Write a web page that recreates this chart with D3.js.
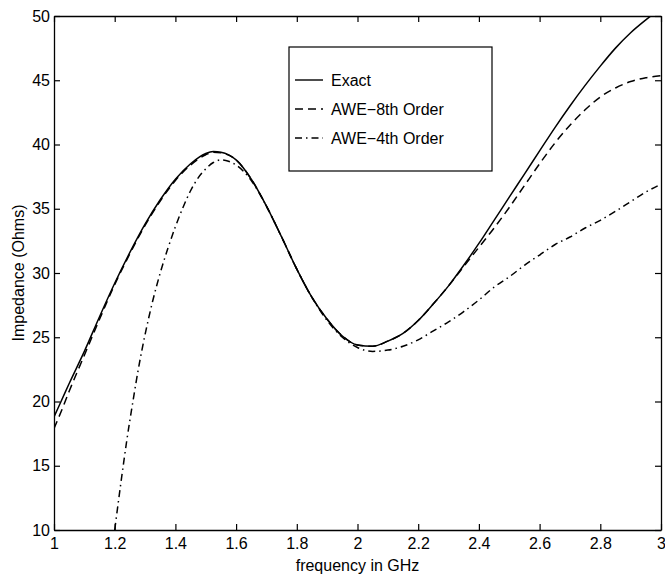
<!DOCTYPE html>
<html>
<head>
<meta charset="utf-8">
<script src="https://cdn.jsdelivr.net/npm/d3@7"></script>
<style>
  body { margin: 0; background: #fff; }
  svg text { font-family: "Liberation Sans", Arial, sans-serif; fill: #000; }
</style>
</head>
<body>
<svg id="chart" width="665" height="579"></svg>
<script>
// values (frequency in GHz, impedance in Ohms)
var freqExact = [1.0, 1.025, 1.05, 1.1, 1.15, 1.2, 1.25, 1.3, 1.35, 1.4, 1.45, 1.5, 1.525, 1.55, 1.6, 1.65, 1.7, 1.75, 1.8, 1.85, 1.9, 1.95, 2.0, 2.05, 2.1, 2.15, 2.2, 2.25, 2.3, 2.35, 2.4, 2.45, 2.5, 2.55, 2.6, 2.65, 2.7, 2.75, 2.8, 2.85, 2.9, 2.95, 3.0];
var zExact = [18.8, 20.1, 21.4, 23.9, 26.6, 29.2, 31.6, 33.8, 35.7, 37.3, 38.5, 39.3, 39.45, 39.4, 38.8, 37.3, 35.2, 32.8, 30.3, 28.1, 26.4, 25.1, 24.4, 24.3, 24.7, 25.3, 26.3, 27.6, 29.0, 30.6, 32.3, 34.1, 35.9, 37.7, 39.5, 41.3, 43.0, 44.6, 46.1, 47.5, 48.7, 49.7, 50.6];

var freq8 = [1.0, 1.025, 1.05, 1.1, 1.15, 1.2, 1.25, 1.3, 1.35, 1.4, 1.45, 1.5, 1.525, 1.55, 1.6, 1.65, 1.7, 1.75, 1.8, 1.85, 1.9, 1.95, 2.0, 2.05, 2.1, 2.15, 2.2, 2.25, 2.3, 2.35, 2.4, 2.45, 2.5, 2.55, 2.6, 2.65, 2.7, 2.75, 2.8, 2.85, 2.9, 2.95, 3.0];
var z8 = [17.9, 19.3, 20.8, 23.6, 26.4, 29.1, 31.5, 33.7, 35.6, 37.2, 38.4, 39.2, 39.4, 39.35, 38.8, 37.3, 35.2, 32.8, 30.3, 28.1, 26.4, 25.1, 24.4, 24.3, 24.7, 25.3, 26.3, 27.6, 29.0, 30.5, 32.0, 33.5, 35.1, 36.8, 38.5, 40.1, 41.5, 42.7, 43.7, 44.4, 44.9, 45.2, 45.35];

var freq4 = [1.2, 1.22, 1.24, 1.26, 1.28, 1.3, 1.325, 1.35, 1.375, 1.4, 1.425, 1.45, 1.475, 1.5, 1.525, 1.55, 1.575, 1.6, 1.625, 1.65, 1.7, 1.75, 1.8, 1.85, 1.9, 1.95, 2.0, 2.05, 2.1, 2.15, 2.2, 2.25, 2.3, 2.35, 2.4, 2.45, 2.5, 2.55, 2.6, 2.65, 2.7, 2.75, 2.8, 2.85, 2.9, 2.95, 3.0];
var z4 = [10.0, 13.6, 17.0, 20.0, 22.8, 25.2, 27.8, 30.0, 31.9, 33.6, 35.1, 36.4, 37.4, 38.1, 38.6, 38.8, 38.7, 38.4, 37.9, 37.2, 35.2, 32.8, 30.3, 28.1, 26.3, 25.0, 24.2, 23.9, 24.0, 24.3, 24.8, 25.5, 26.2, 27.0, 27.9, 28.9, 29.7, 30.6, 31.4, 32.2, 32.8, 33.5, 34.1, 34.8, 35.55, 36.3, 36.9];

var xTicks = [1, 1.2, 1.4, 1.6, 1.8, 2, 2.2, 2.4, 2.6, 2.8, 3];
var yTicks = [10, 15, 20, 25, 30, 35, 40, 45, 50];

var seriesNames = ["Exact", "AWE\u22128th Order", "AWE\u22124th Order"];
var dashes = [null, "8,5", "7,4,1.5,4"];

var svg = d3.select("#chart");
// plot box edges (px)
var pLeft = 54, pRight = 661, pTop = 16, pBottom = 530;

var x = d3.scaleLinear().domain([1, 3]).range([pLeft, pRight]);
var y = d3.scaleLinear().domain([10, 50]).range([pBottom, pTop]);

svg.append("defs").append("clipPath").attr("id", "plotclip")
  .append("rect").attr("x", pLeft).attr("y", pTop)
  .attr("width", pRight - pLeft).attr("height", pBottom - pTop);

// axes, ticks pointing inward like matlab
var fmt = function(d) { return String(d); };
svg.append("g").attr("transform", "translate(0," + pBottom + ")")
  .call(d3.axisBottom(x).tickValues(xTicks).tickFormat(fmt).tickSizeInner(-6).tickSizeOuter(0).tickPadding(8));
svg.append("g").attr("transform", "translate(0," + pTop + ")")
  .call(d3.axisTop(x).tickValues(xTicks).tickFormat("").tickSizeInner(-6).tickSizeOuter(0));
svg.append("g").attr("transform", "translate(" + pLeft + ",0)")
  .call(d3.axisLeft(y).tickValues(yTicks).tickFormat(fmt).tickSizeInner(-6).tickSizeOuter(0).tickPadding(4));
svg.append("g").attr("transform", "translate(" + pRight + ",0)")
  .call(d3.axisRight(y).tickValues(yTicks).tickFormat("").tickSizeInner(-6).tickSizeOuter(0));

svg.selectAll(".domain").attr("stroke", "#000").attr("stroke-width", 1.3);
svg.selectAll(".tick line").attr("stroke", "#000").attr("stroke-width", 1.2);
svg.selectAll(".tick text").attr("font-size", 16).attr("fill", "#000")
  .style("font-family", "'Liberation Sans', Arial, sans-serif");

// lines
var line = d3.line()
  .x(function(d) { return x(d[0]); })
  .y(function(d) { return y(d[1]); })
  .curve(d3.curveMonotoneX);

var data = [
  d3.zip(freqExact, zExact),
  d3.zip(freq8, z8),
  d3.zip(freq4, z4)
];

svg.append("g").attr("clip-path", "url(#plotclip)")
  .selectAll("path").data(data).enter()
  .append("path")
  .attr("d", line)
  .attr("fill", "none")
  .attr("stroke", "#000")
  .attr("stroke-width", 1.5)
  .attr("stroke-dasharray", function(d, i) { return dashes[i]; });

// legend
var lg = svg.append("g");
lg.append("rect").attr("x", 289).attr("y", 47).attr("width", 203).attr("height", 124)
  .attr("fill", "#fff").attr("stroke", "#000").attr("stroke-width", 1.2);
var rows = lg.selectAll("g.row").data(seriesNames).enter().append("g")
  .attr("transform", function(d, i) { return "translate(0," + (80 + i * 29) + ")"; });
rows.append("line").attr("x1", 295).attr("x2", 323).attr("y1", 0).attr("y2", 0)
  .attr("stroke", "#000").attr("stroke-width", 1.4)
  .attr("stroke-dasharray", function(d, i) { return dashes[i]; });
rows.append("text").attr("x", 331).attr("y", 5.5).attr("font-size", 16).text(function(d) { return d; });

// axis labels
svg.append("text").attr("x", (pLeft + pRight) / 2).attr("y", 571)
  .attr("text-anchor", "middle").attr("font-size", 16).text("frequency in GHz");
svg.append("text").attr("transform", "translate(24," + ((pTop + pBottom) / 2) + ") rotate(-90)")
  .attr("text-anchor", "middle").attr("font-size", 16).text("Impedance (Ohms)");
</script>
</body>
</html>
